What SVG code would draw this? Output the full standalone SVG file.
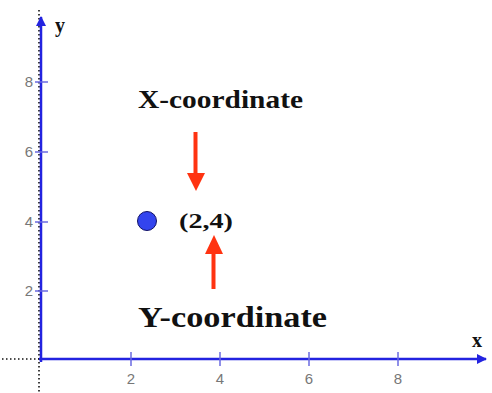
<svg xmlns="http://www.w3.org/2000/svg" width="492" height="393" viewBox="0 0 492 393">
<style>
.axis{stroke:#2323e0;stroke-width:2.5;fill:none}
.dots{stroke:#111;stroke-width:1.6;stroke-dasharray:1.5 2.5;fill:none}
.tick{stroke:#6a6ae0;stroke-width:1.5}
.tl{font-family:"Liberation Sans",Arial,sans-serif;font-size:15px;fill:#777}
.lab{font-family:"Liberation Serif","Times New Roman",serif;font-weight:bold;fill:#111}
.red{stroke:#ff3311;stroke-width:4;fill:none}
</style>
<defs>
<marker id="ah" viewBox="0 0 10 10" refX="9" refY="5" markerWidth="4" markerHeight="4" orient="auto" markerUnits="strokeWidth">
<path d="M0,0 L10,5 L0,10 z" fill="#2323e0"/>
</marker>
</defs>
<rect width="492" height="393" fill="#fff"/>
<g id="axes">
<line class="dots" x1="39" y1="10" x2="39" y2="393"/>
<line class="dots" x1="2" y1="359" x2="40" y2="359"/>
<line class="axis" x1="41" y1="362" x2="41" y2="17" marker-end="url(#ah)"/>
<line class="axis" x1="39" y1="359" x2="486" y2="359" marker-end="url(#ah)"/>
<g id="ticks">
<line class="tick" x1="131" y1="352" x2="131" y2="366"/>
<line class="tick" x1="220" y1="352" x2="220" y2="366"/>
<line class="tick" x1="309" y1="352" x2="309" y2="366"/>
<line class="tick" x1="398" y1="352" x2="398" y2="366"/>
<line class="tick" x1="35" y1="82" x2="48" y2="82"/>
<line class="tick" x1="35" y1="152" x2="48" y2="152"/>
<line class="tick" x1="35" y1="222" x2="48" y2="222"/>
<line class="tick" x1="35" y1="291" x2="48" y2="291"/>
</g>
<g id="ticklabels" class="tl">
<text x="131" y="384" text-anchor="middle">2</text>
<text x="220" y="384" text-anchor="middle">4</text>
<text x="309" y="384" text-anchor="middle">6</text>
<text x="398" y="384" text-anchor="middle">8</text>
<text x="29" y="87" text-anchor="middle">8</text>
<text x="29" y="157" text-anchor="middle">6</text>
<text x="29" y="227" text-anchor="middle">4</text>
<text x="29" y="296" text-anchor="middle">2</text>
</g>
<text class="lab" x="55" y="32" font-size="20">y</text>
<text class="lab" x="472" y="347" font-size="20">x</text>
</g>
<g id="point">
<circle cx="147" cy="221" r="9.5" fill="#3344ee" stroke="#111166" stroke-width="1"/>
<text class="lab" x="179" y="228" font-size="22" textLength="54" lengthAdjust="spacingAndGlyphs">(2,4)</text>
</g>
<g id="xlabel">
<text class="lab" x="138" y="108" font-size="26" textLength="165" lengthAdjust="spacingAndGlyphs">X-coordinate</text>
</g>
<g id="ylabel">
<text class="lab" x="138" y="327" font-size="29" textLength="189" lengthAdjust="spacingAndGlyphs">Y-coordinate</text>
</g>
<g id="connectors">
<line class="red" x1="195.5" y1="132" x2="195.5" y2="175"/>
<path d="M187,173 L205,173 L196,191 z" fill="#ff3311"/>
<line class="red" x1="213.5" y1="289" x2="213.5" y2="251"/>
<path d="M205,254 L223,254 L214,235 z" fill="#ff3311"/>
</g>
</svg>
